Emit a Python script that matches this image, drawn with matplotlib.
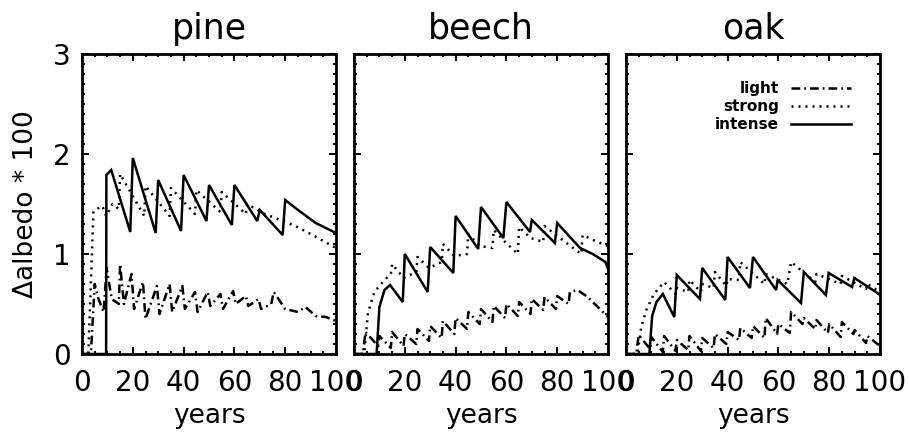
#!/usr/bin/env python3

import matplotlib
matplotlib.use('Agg')

import matplotlib.pyplot as plt
import matplotlib.ticker as mticker

species = ['pine', 'beech', 'oak']
labels = ['light', 'strong', 'intense']

# pine
pine_int_x = [0, 9.5, 9.6, 11.5, 19, 20, 29, 30, 39, 40, 49, 50, 59, 60,
              69, 70, 79, 80, 84, 92, 100]
pine_int_y = [0, 0, 1.79, 1.84, 1.22, 1.96, 1.21, 1.74, 1.23, 1.79, 1.33,
              1.69, 1.29, 1.69, 1.33, 1.44, 1.19, 1.54, 1.46, 1.31, 1.21]
pine_str_x = [0, 2.5, 4.5, 8, 9.5, 12, 14.5, 15, 24.5, 25, 34.5, 35, 44.5,
              45, 54.5, 55, 64.5, 65, 72, 78, 84, 90, 95, 100]
pine_str_y = [0, 0, 1.43, 1.48, 1.38, 1.50, 1.45, 1.80, 1.38, 1.68, 1.38,
              1.66, 1.40, 1.64, 1.42, 1.62, 1.40, 1.50, 1.40, 1.34, 1.28,
              1.20, 1.13, 1.06]
pine_lgt_x = [0, 3.5, 5, 6.5, 8.5, 9.7, 11.7, 14.5, 15, 16.5, 19.5, 20.5,
              24, 25, 29.5, 30.5, 34.5, 35.5, 39.5, 40.5, 44.5, 45.5, 49.5,
              50.5, 54.5, 55.5, 59.5, 60.5, 64.5, 65.5, 69.5, 70.5, 74.5,
              75.5, 80, 85, 88, 92, 96, 100]
pine_lgt_y = [0, 0, 0.70, 0.55, 0.42, 0.86, 0.55, 0.50, 0.90, 0.50, 0.80,
              0.45, 0.72, 0.35, 0.68, 0.40, 0.70, 0.42, 0.68, 0.45, 0.62,
              0.42, 0.62, 0.48, 0.60, 0.45, 0.63, 0.50, 0.58, 0.48, 0.55,
              0.45, 0.50, 0.62, 0.45, 0.42, 0.47, 0.38, 0.37, 0.33]

# beech
beech_int_x = [0, 8.9, 10, 12, 14.2, 19.2, 20, 29, 30, 39.1, 40, 48.9, 50,
               58.8, 60, 69.3, 70, 79.1, 80, 89, 94, 99, 100]
beech_int_y = [0, 0, 0.47, 0.64, 0.69, 0.52, 1.00, 0.62, 1.07, 0.81, 1.38,
               1.05, 1.47, 1.16, 1.52, 1.22, 1.34, 1.11, 1.31, 1.06, 1.00,
               0.92, 0.85]
beech_str_x = [0, 4, 5.5, 8, 12, 14.5, 15, 19.5, 24.5, 25, 29.5, 34.5, 35,
               39.5, 44.5, 45, 49.5, 54.5, 55, 59.5, 64.5, 65, 69.5, 74.5,
               75, 80, 89.5, 90, 95, 100]
beech_str_y = [0, 0, 0.41, 0.62, 0.74, 0.80, 0.90, 0.76, 0.82, 0.97, 0.86,
               0.92, 1.10, 0.98, 1.00, 1.20, 1.08, 1.06, 1.24, 1.12, 1.00,
               1.27, 1.16, 1.12, 1.28, 1.18, 1.00, 1.19, 1.13, 1.08]
beech_lgt_x = [0, 3.5, 4.5, 9.5, 10, 14.5, 15, 19.5, 20, 24.5, 25, 29.5, 30,
               34.5, 35, 39.5, 40, 44.5, 45, 49.5, 50, 54.5, 55, 59.5, 60,
               64.5, 65, 69.5, 70, 74.5, 75, 79.5, 80, 84.5, 85, 88, 92, 96,
               100]
beech_lgt_y = [0, 0, 0.22, 0.08, 0.18, 0.06, 0.22, 0.08, 0.20, 0.10, 0.25,
               0.13, 0.28, 0.16, 0.33, 0.20, 0.36, 0.25, 0.42, 0.30, 0.45,
               0.32, 0.48, 0.36, 0.50, 0.38, 0.52, 0.40, 0.55, 0.44, 0.57,
               0.45, 0.58, 0.50, 0.62, 0.64, 0.57, 0.47, 0.37]

# oak
oak_int_x = [0, 9.2, 10.3, 12, 14.5, 19, 20, 29.1, 30, 39.1, 40, 48.8, 50,
             59.1, 59.7, 68.9, 70, 78.7, 79.8, 89, 89.9, 98.4, 100]
oak_int_y = [0, 0, 0.38, 0.52, 0.60, 0.37, 0.79, 0.55, 0.86, 0.54, 0.97,
             0.66, 0.97, 0.64, 0.74, 0.51, 0.82, 0.59, 0.81, 0.67, 0.76,
             0.62, 0.59]
oak_str_x = [0, 4.5, 6, 8, 11, 15, 19.5, 20, 24.5, 25, 29.5, 30, 34.5, 35,
             39.5, 40, 44.5, 45, 54.5, 55, 63.5, 65, 74.5, 75, 84.5, 85,
             94.5, 95, 100]
oak_str_y = [0, 0, 0.27, 0.44, 0.60, 0.72, 0.60, 0.66, 0.62, 0.74, 0.62,
             0.70, 0.66, 0.82, 0.68, 0.75, 0.74, 0.92, 0.70, 0.80, 0.70,
             0.92, 0.72, 0.80, 0.70, 0.78, 0.65, 0.70, 0.62]
oak_lgt_x = [0, 4, 5, 9.5, 10, 14.5, 15, 19.5, 20, 24.5, 25, 29.5, 30, 34.5,
             35, 39.5, 40, 44.5, 45, 49.5, 50, 54.5, 55, 59.5, 60, 64.5, 65,
             69.5, 70, 74.5, 75, 79.5, 80, 84.5, 85, 89.5, 90, 94.5, 95, 100]
oak_lgt_y = [0, 0, 0.19, 0.05, 0.17, 0.02, 0.18, 0.03, 0.14, 0.04, 0.18,
             0.03, 0.16, 0.06, 0.20, 0.10, 0.22, 0.14, 0.26, 0.16, 0.28,
             0.16, 0.36, 0.20, 0.30, 0.21, 0.42, 0.30, 0.36, 0.25, 0.34,
             0.21, 0.30, 0.17, 0.32, 0.20, 0.24, 0.11, 0.18, 0.08]

x_ticks = [0, 20, 40, 60, 80, 100]
y_ticks = [0, 1, 2, 3]

STYLES = {'light'  : (0, (3.5, 1.6, 0.7, 1.6)),
          'strong' : (0, (0.8, 2.0)),
          'intense': '-'}


def draw_panel(ax, name, series, first=False):

    for lab in labels:
        xs, ys = series[lab]
        ax.plot(xs, ys, color='black', lw=1.8, linestyle=STYLES[lab],
                label=lab, solid_joinstyle='miter')

    ax.set_xlim(0, 100)
    ax.set_ylim(0, 3)
    ax.set_xticks(x_ticks)
    ax.set_yticks(y_ticks)
    ax.xaxis.set_minor_locator(mticker.MultipleLocator(5))
    ax.yaxis.set_minor_locator(mticker.MultipleLocator(0.1))
    ax.tick_params(which='both', direction='in', top=True, right=True,
                   width=1.4)
    ax.tick_params(which='major', length=5, labelsize=20)
    ax.tick_params(which='minor', length=2.5)
    ax.tick_params(axis='x', pad=11)
    ax.tick_params(axis='y', pad=8)
    if not first:
        ax.set_yticklabels([])
    for sp in ax.spines.values():
        sp.set_linewidth(2.0)

    ax.set_title(name, fontsize=25, pad=11)
    ax.set_xlabel('years', fontsize=19, labelpad=4)


def main():

    fig = plt.figure(figsize=(9.09, 4.38), dpi=100)

    data = {'pine' : {'light'  : (pine_lgt_x, pine_lgt_y),
                      'strong' : (pine_str_x, pine_str_y),
                      'intense': (pine_int_x, pine_int_y)},
            'beech': {'light'  : (beech_lgt_x, beech_lgt_y),
                      'strong' : (beech_str_x, beech_str_y),
                      'intense': (beech_int_x, beech_int_y)},
            'oak'  : {'light'  : (oak_lgt_x, oak_lgt_y),
                      'strong' : (oak_str_x, oak_str_y),
                      'intense': (oak_int_x, oak_int_y)}}

    lefts = [82 / 909, 354 / 909, 626 / 909]
    axes = []
    for i, name in enumerate(species):
        ax = fig.add_axes([lefts[i], 84 / 438, 254 / 909, 300 / 438])
        draw_panel(ax, name, data[name], first=(i == 0))
        axes.append(ax)

    axes[0].set_ylabel('\u0394albedo * 100', fontsize=19, labelpad=10)

    # legend in the oak panel
    axes[2].legend(loc='upper right', bbox_to_anchor=(0.885, 0.91),
                   frameon=False, markerfirst=False, handlelength=3.9,
                   handletextpad=0.8, labelspacing=0.2, borderpad=0,
                   borderaxespad=0,
                   prop={'size': 11, 'weight': 'bold'})

    fig.savefig('out.png', dpi=100)


if __name__ == '__main__':
    main()
